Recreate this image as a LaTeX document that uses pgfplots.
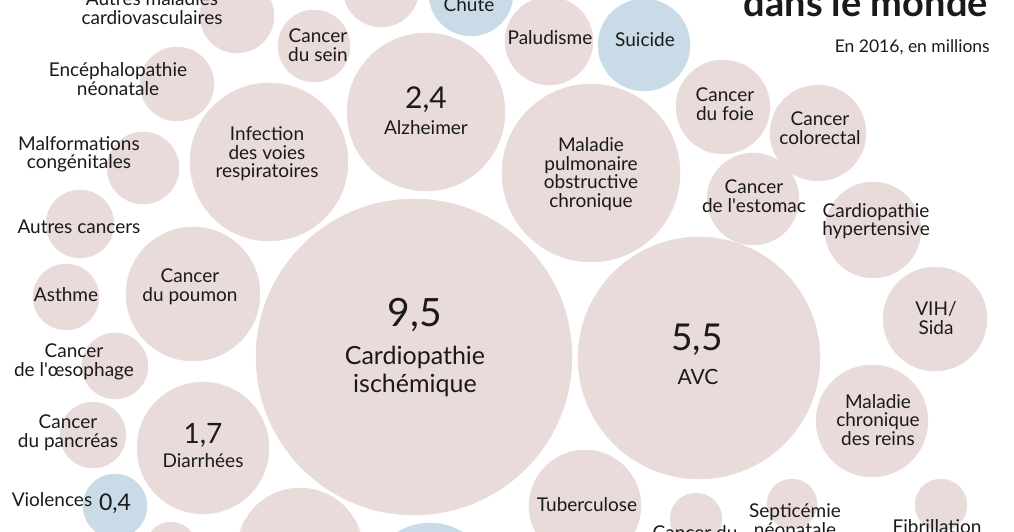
\documentclass[border=0pt]{standalone}
\usepackage{pgfplots}
\pgfplotsset{compat=1.18}
\usepackage{fontspec}
\setmainfont{Lato}
\definecolor{cpink}{HTML}{E8DBD9}
\definecolor{cblue}{HTML}{C9DBE6}
\definecolor{ctext}{HTML}{1A1A1A}
\begin{document}
\begin{tikzpicture}[
  lab/.style={align=center, inner sep=0pt, text=ctext, font=\fontsize{19}{18.5}\selectfont},
  num/.style={inner sep=0pt, text=ctext}]
\begin{axis}[name=ax, x=1pt, y=1pt, y dir=reverse,
  xmin=-100, xmax=1114, ymin=-100, ymax=700,
  scale only axis, hide axis, clip=false, set layers=standard]
\addplot[only marks, mark=*, scatter,
  scatter/use mapped color={draw=cpink, fill=cpink},
  visualization depends on={\thisrow{r} \as \rad},
  scatter/@pre marker code/.append style={/tikz/mark size=\rad}]
  table {
x y r
237 16 37
314 46 36
381 -11 38
549 41 44
426 112 79
269 162 79
177 84 37
143 168 36
80 224 34
66 297 33
193 294 67
115 366 33
93 435 33
203 448 66
414 357 158
699 358 121
591 173 89
723 107 47
818 133 48
753 199 46
873 230 48
935 319 52
872 421 56
585 506 56
696 519 26
792 504 25
941 505 26
300 551 63
171 547 25
};
\addplot[only marks, mark=*, scatter,
  scatter/use mapped color={draw=cblue, fill=cblue},
  visualization depends on={\thisrow{r} \as \rad},
  scatter/@pre marker code/.append style={/tikz/mark size=\rad}]
  table {
x y r
471 -6 42
644 45 46
115 506 32
430 585 62
};
\coordinate (tl) at (axis cs:0,0);
\coordinate (br) at (axis cs:1014,532);
\begin{pgfonlayer}{axis foreground}
\node[lab] at (axis cs:152,8) {Autres maladies\\cardiovasculaires};
\node[lab] at (axis cs:318,45) {Cancer\\du sein};
\node[lab] at (axis cs:469,5) {Chute};
\node[lab] at (axis cs:550,38) {Paludisme};
\node[lab] at (axis cs:645,40) {Suicide};
\node[lab] at (axis cs:118,79) {Encéphalopathie\\néonatale};
\node[lab] at (axis cs:79,154) {Malformations\\congénitales};
\node[lab] at (axis cs:267,154) {Infection\\des voies\\respiratoires};
\node[num, font=\fontsize{30}{30}\selectfont] at (axis cs:426,100) {2,4};
\node[lab] at (axis cs:426,128) {Alzheimer};
\node[lab] at (axis cs:591,174) {Maladie\\pulmonaire\\obstructive\\chronique};
\node[lab] at (axis cs:725,104) {Cancer\\du foie};
\node[lab] at (axis cs:820,128) {Cancer\\colorectal};
\node[lab] at (axis cs:754,196) {Cancer\\de l\textquotesingle estomac};
\node[lab] at (axis cs:876,221) {Cardiopathie\\hypertensive};
\node[lab] at (axis cs:79,227) {Autres cancers};
\node[lab] at (axis cs:66,295) {Asthme};
\node[lab] at (axis cs:190,287) {Cancer\\du poumon};
\node[lab] at (axis cs:936,318) {VIH/\\Sida};
\node[num, font=\fontsize{39}{39}\selectfont] at (axis cs:415,315) {9,5};
\node[lab, font=\fontsize{25}{28}\selectfont] at (axis cs:415,371) {Cardiopathie\\ischémique};
\node[num, font=\fontsize{37}{37}\selectfont] at (axis cs:697,340) {5,5};
\node[lab, font=\fontsize{21}{21}\selectfont] at (axis cs:698,377) {AVC};
\node[lab] at (axis cs:74,362) {Cancer\\de l\textquotesingle œsophage};
\node[lab] at (axis cs:68,433) {Cancer\\du pancréas};
\node[num, font=\fontsize{28}{28}\selectfont] at (axis cs:203,435) {1,7};
\node[lab] at (axis cs:203,461) {Diarrhées};
\node[lab] at (axis cs:878,420) {Maladie\\chronique\\des reins};
\node[lab] at (axis cs:52,500) {Violences};
\node[num, font=\fontsize{23}{23}\selectfont] at (axis cs:115,504) {0,4};
\node[lab] at (axis cs:587,505) {Tuberculose};
\node[lab] at (axis cs:695,533) {Cancer du};
\node[lab] at (axis cs:795,520) {Septicémie\\néonatale};
\node[lab] at (axis cs:937,527) {Fibrillation};
\node[anchor=base east, inner sep=0pt, text=ctext, font=\fontsize{38}{38}\bfseries\selectfont] at (axis cs:988,17) {dans le monde};
\node[anchor=base east, inner sep=0pt, text=ctext, font=\fontsize{17.5}{18}\selectfont] at (axis cs:990,53) {En 2016, en millions};
\end{pgfonlayer}
\end{axis}
\pgfresetboundingbox
\useasboundingbox (tl) rectangle (br);
\end{tikzpicture}
\end{document}
